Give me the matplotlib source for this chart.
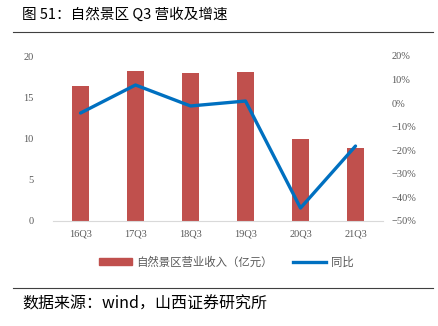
import matplotlib.pyplot as plt
from matplotlib.lines import Line2D
from matplotlib.patches import Patch
from matplotlib.ticker import FuncFormatter

# ─── DATA ───
quarters = ['16Q3', '17Q3', '18Q3', '19Q3', '20Q3', '21Q3']
revenue = [16.4, 18.2, 17.9, 18.1, 9.9, 8.8]        # 亿元
yoy = [-4.2, 7.7, -1.2, 0.9, -44.5, -18.2]          # %

BAR_COLOR = '#C0504D'
LINE_COLOR = '#0070C0'
TICK_COLOR = '#595959'
CJK = ['Noto Sans CJK SC', 'DejaVu Sans']
SERIF = ['Liberation Serif', 'DejaVu Serif']

fig = plt.figure(figsize=(4.39, 3.26), dpi=100)
ax = fig.add_axes([53 / 439, 1 - 221 / 326, 330 / 439, 165 / 326])
ax2 = ax.twinx()

x = list(range(len(quarters)))
ax.bar(x, revenue, width=0.31, color=BAR_COLOR, zorder=2)
ax2.plot(x, yoy, color=LINE_COLOR, lw=2.4, solid_capstyle='round', zorder=3)

ax.set_xlim(-0.5, len(quarters) - 0.5)
ax.set_ylim(0, 20)
ax.set_yticks([0, 5, 10, 15, 20])
ax2.set_ylim(-50, 20)
ax2.set_yticks(range(-50, 21, 10))
ax2.yaxis.set_major_formatter(FuncFormatter(lambda v, p: f'{int(v)}%'.replace('-', '\u2212')))

ax.set_xticks(x)
ax.set_xticklabels(quarters)

for a in (ax, ax2):
    for s in a.spines.values():
        s.set_visible(False)
    a.tick_params(length=0, colors=TICK_COLOR, labelsize=7.5)
    for lab in a.get_xticklabels() + a.get_yticklabels():
        lab.set_family(SERIF)
ax.spines['bottom'].set_visible(True)
ax.spines['bottom'].set_color('#D9D9D9')
ax.tick_params(axis='y', pad=14)
ax.tick_params(axis='x', pad=6)
ax2.tick_params(axis='y', pad=6)

handles = [Patch(color=BAR_COLOR), Line2D([0], [0], color=LINE_COLOR, lw=2.4)]
leg = fig.legend(handles, ['自然景区营业收入（亿元）', '同比'], loc='center',
                 bbox_to_anchor=(0.515, 1 - 262 / 326), ncol=2, frameon=False,
                 handlelength=2.9, handleheight=0.5, columnspacing=1.8, handletextpad=0.4,
                 prop={'family': CJK, 'size': 8.2})
for t in leg.get_texts():
    t.set_color(TICK_COLOR)

fig.text(22 / 439, 1 - 15 / 326, '图 51：自然景区 Q3 营收及增速', family=CJK,
         fontsize=10.5, va='center', ha='left', color='#000000')
fig.add_artist(Line2D([13 / 439, 433 / 439], [1 - 32 / 326] * 2, color='#404040', lw=0.8))
fig.add_artist(Line2D([13 / 439, 433 / 439], [1 - 288 / 326] * 2, color='#404040', lw=0.8))
fig.text(22 / 439, 1 - 304 / 326, '数据来源：wind，山西证券研究所', family=CJK,
         fontsize=11.5, va='center', ha='left', color='#000000')

fig.savefig('out.png', dpi=100)
